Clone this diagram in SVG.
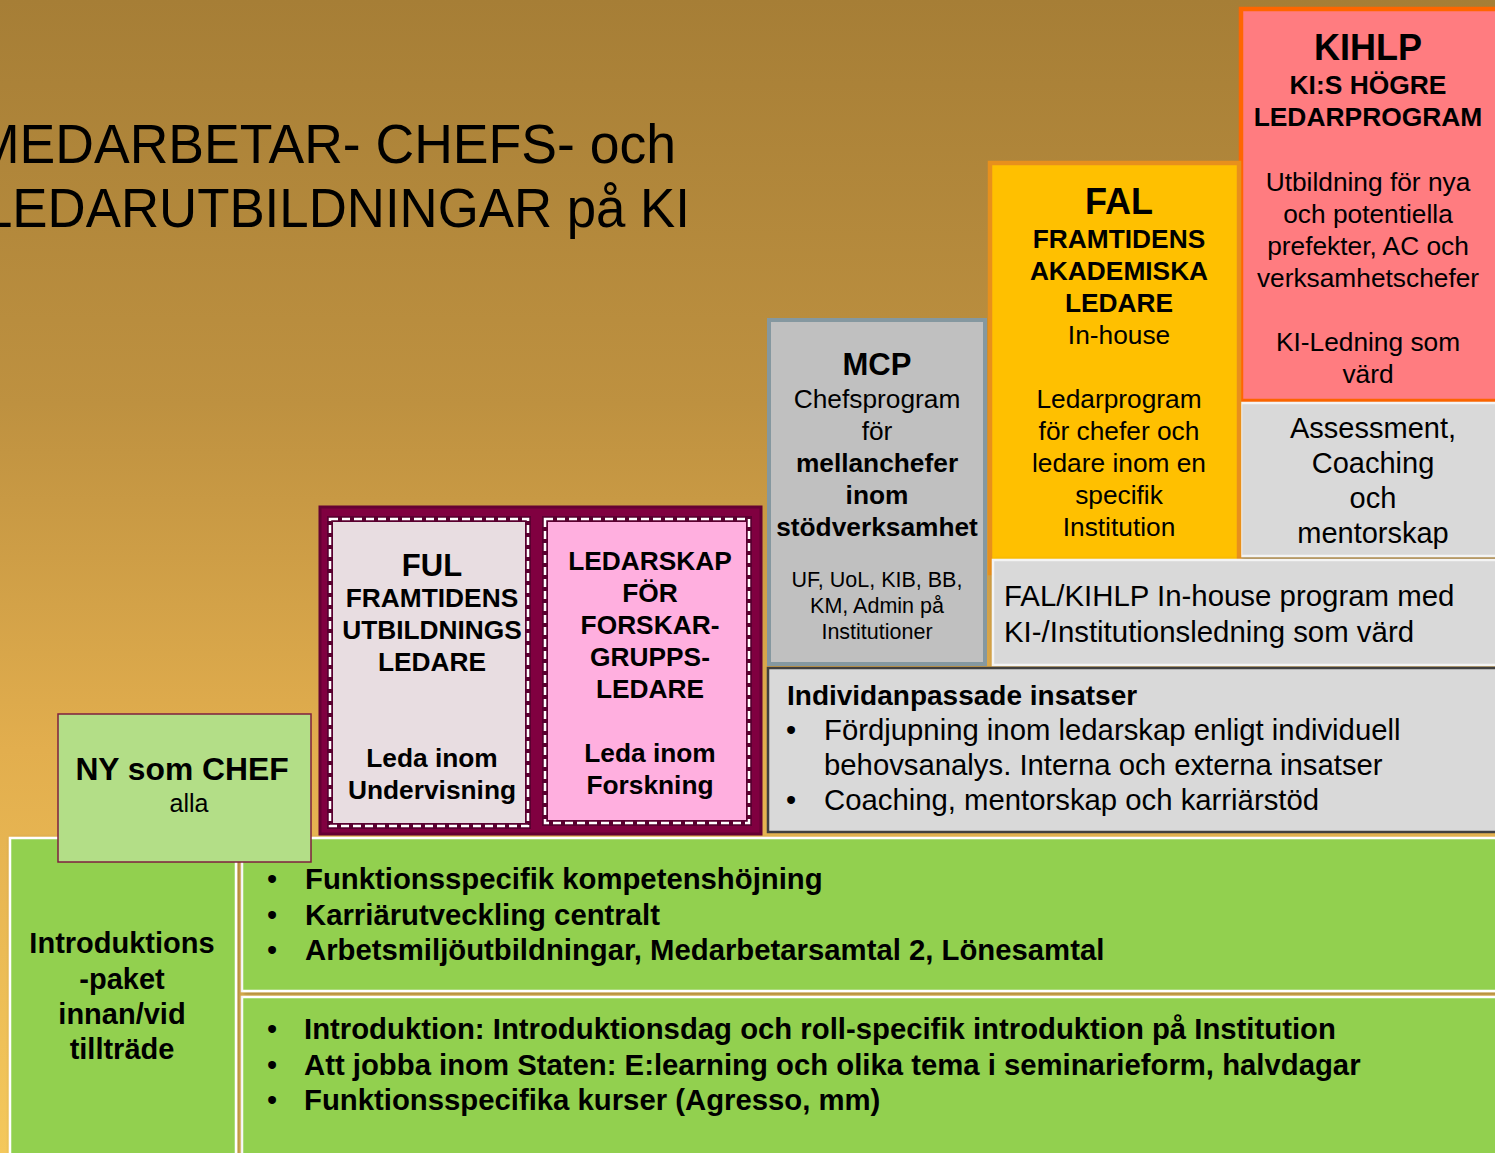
<svg xmlns="http://www.w3.org/2000/svg" width="1495" height="1153" viewBox="0 0 1495 1153">
<defs>
<linearGradient id="bg" x1="0" y1="0" x2="0" y2="1">
<stop offset="0" stop-color="#A67E36"/>
<stop offset="0.35" stop-color="#BE9140"/>
<stop offset="0.65" stop-color="#E2AE4E"/>
<stop offset="1" stop-color="#F4C85C"/>
</linearGradient>
<filter id="sh" x="-5%" y="-5%" width="110%" height="110%">
<feDropShadow dx="2" dy="2" stdDeviation="2" flood-color="#000" flood-opacity="0.35"/>
</filter>
<style>
text{font-family:"Liberation Sans",Arial,Helvetica,sans-serif;fill:#000}
.c{text-anchor:middle}
.b{font-weight:bold}
.gray{fill:#D9D9D9;stroke:#F4F4F4;stroke-width:2.5}
.green{fill:#92D050;stroke:#FFFFFF;stroke-width:2.5}
.dash-under{stroke:#5A0030;stroke-width:6;fill:none}
.dash-over{stroke:#FFFFFF;stroke-width:2.5;fill:none;stroke-dasharray:8 4}
</style>
</defs>
<rect x="0" y="0" width="1495" height="1153" fill="url(#bg)"/>

<g id="title">
<text x="-25" y="163" font-size="56" textLength="701" lengthAdjust="spacingAndGlyphs">MEDARBETAR- CHEFS- och</text>
<text x="-17" y="227" font-size="56" textLength="707" lengthAdjust="spacingAndGlyphs">LEDARUTBILDNINGAR på KI</text>
</g>

<g id="kihlp">
<rect x="1241" y="9" width="262" height="392" fill="#FF7C80" stroke="#FF6600" stroke-width="4.5"/>
<text class="c b" x="1368" y="60" font-size="36">KIHLP</text>
<text class="c b" x="1368" y="94" font-size="26.4">KI:S HÖGRE</text>
<text class="c b" x="1368" y="126" font-size="26.4">LEDARPROGRAM</text>
<text class="c" x="1368" y="191" font-size="26.3">Utbildning för nya</text>
<text class="c" x="1368" y="223" font-size="26.3">och potentiella</text>
<text class="c" x="1368" y="255" font-size="26.3">prefekter, AC och</text>
<text class="c" x="1368" y="287" font-size="26.3">verksamhetschefer</text>
<text class="c" x="1368" y="351" font-size="26.3">KI-Ledning som</text>
<text class="c" x="1368" y="383" font-size="26.3">värd</text>
</g>

<g id="assessment">
<rect class="gray" x="1241" y="403" width="262" height="153" filter="url(#sh)"/>
<text class="c" x="1373" y="438" font-size="29">Assessment,</text>
<text class="c" x="1373" y="473" font-size="29">Coaching</text>
<text class="c" x="1373" y="508" font-size="29">och</text>
<text class="c" x="1373" y="543" font-size="29">mentorskap</text>
</g>

<g id="fal">
<rect x="990" y="163" width="249" height="410" fill="#FFC000" stroke="#E8901C" stroke-width="4.5"/>
<text class="c b" x="1119" y="214" font-size="36">FAL</text>
<text class="c b" x="1119" y="248" font-size="26.3">FRAMTIDENS</text>
<text class="c b" x="1119" y="280" font-size="26.3">AKADEMISKA</text>
<text class="c b" x="1119" y="312" font-size="26.3">LEDARE</text>
<text class="c" x="1119" y="344" font-size="26.3">In-house</text>
<text class="c" x="1119" y="408" font-size="26.3">Ledarprogram</text>
<text class="c" x="1119" y="440" font-size="26.3">för chefer och</text>
<text class="c" x="1119" y="472" font-size="26.3">ledare inom en</text>
<text class="c" x="1119" y="504" font-size="26.3">specifik</text>
<text class="c" x="1119" y="536" font-size="26.3">Institution</text>
</g>

<g id="inhouse">
<rect class="gray" x="993" y="560" width="510" height="105" filter="url(#sh)"/>
<text x="1004" y="606" font-size="29.4">FAL/KIHLP In-house program med</text>
<text x="1004" y="642" font-size="29.4">KI-/Institutionsledning som värd</text>
</g>

<g id="mcp">
<rect x="769" y="320" width="216" height="344" fill="#C0C0C0" stroke="#8598A0" stroke-width="4"/>
<text class="c b" x="877" y="375" font-size="31">MCP</text>
<text class="c" x="877" y="408" font-size="26.3">Chefsprogram</text>
<text class="c" x="877" y="440" font-size="26.3">för</text>
<text class="c b" x="877" y="472" font-size="26.3">mellanchefer</text>
<text class="c b" x="877" y="504" font-size="26.3">inom</text>
<text class="c b" x="877" y="536" font-size="26.3">stödverksamhet</text>
<text class="c" x="877" y="587" font-size="21.5">UF, UoL, KIB, BB,</text>
<text class="c" x="877" y="613" font-size="21.5">KM, Admin på</text>
<text class="c" x="877" y="639" font-size="21.5">Institutioner</text>
</g>

<g id="individ">
<rect x="768" y="668" width="735" height="164" fill="#D9D9D9" stroke="#404040" stroke-width="2.5"/>
<text class="b" x="787" y="705" font-size="28">Individanpassade insatser</text>
<text x="786" y="740" font-size="29">•</text>
<text x="824" y="740" font-size="29.3">Fördjupning inom ledarskap enligt individuell</text>
<text x="824" y="775" font-size="29.3">behovsanalys. Interna och externa insatser</text>
<text x="786" y="810" font-size="29">•</text>
<text x="824" y="810" font-size="29.3">Coaching, mentorskap och karriärstöd</text>
</g>

<g id="ledarprogram-ram">
<rect x="320" y="507" width="441" height="327" fill="#800040" stroke="#650033" stroke-width="3"/>
</g>

<g id="ful">
<rect x="330" y="519" width="198" height="307" fill="#E8DDE1"/>
<rect class="dash-under" x="330" y="519" width="198" height="307"/>
<rect class="dash-over" x="330" y="519" width="198" height="307"/>
<text class="c b" x="432" y="576" font-size="31">FUL</text>
<text class="c b" x="432" y="607" font-size="26.3">FRAMTIDENS</text>
<text class="c b" x="432" y="639" font-size="26.3">UTBILDNINGS</text>
<text class="c b" x="432" y="671" font-size="26.3">LEDARE</text>
<text class="c b" x="432" y="767" font-size="26.3">Leda inom</text>
<text class="c b" x="432" y="799" font-size="26.3">Undervisning</text>
</g>

<g id="forskarledare">
<rect x="545" y="519" width="204" height="304" fill="#FFAFDF"/>
<rect class="dash-under" x="545" y="519" width="204" height="304"/>
<rect class="dash-over" x="545" y="519" width="204" height="304"/>
<text class="c b" x="650" y="570" font-size="26.3">LEDARSKAP</text>
<text class="c b" x="650" y="602" font-size="26.3">FÖR</text>
<text class="c b" x="650" y="634" font-size="26.3">FORSKAR-</text>
<text class="c b" x="650" y="666" font-size="26.3">GRUPPS-</text>
<text class="c b" x="650" y="698" font-size="26.3">LEDARE</text>
<text class="c b" x="650" y="762" font-size="26.3">Leda inom</text>
<text class="c b" x="650" y="794" font-size="26.3">Forskning</text>
</g>

<g id="funktion">
<rect class="green" x="242" y="838" width="1261" height="153" filter="url(#sh)"/>
<text x="267" y="889" font-size="29">•</text>
<text class="b" x="305" y="889" font-size="29.3">Funktionsspecifik kompetenshöjning</text>
<text x="267" y="925" font-size="29">•</text>
<text class="b" x="305" y="925" font-size="29.3">Karriärutveckling centralt</text>
<text x="267" y="960" font-size="29">•</text>
<text class="b" x="305" y="960" font-size="29.3">Arbetsmiljöutbildningar, Medarbetarsamtal 2, Lönesamtal</text>
</g>

<g id="introduktion">
<rect class="green" x="242" y="997" width="1261" height="170" filter="url(#sh)"/>
<text x="267" y="1039" font-size="29">•</text>
<text class="b" x="304" y="1039" font-size="29.3">Introduktion: Introduktionsdag och roll-specifik introduktion på Institution</text>
<text x="267" y="1075" font-size="29">•</text>
<text class="b" x="304" y="1075" font-size="29.3">Att jobba inom Staten: E:learning och olika tema i seminarieform, halvdagar</text>
<text x="267" y="1110" font-size="29">•</text>
<text class="b" x="304" y="1110" font-size="29.3">Funktionsspecifika kurser (Agresso, mm)</text>
</g>

<g id="introduktionspaket">
<rect class="green" x="10" y="838" width="226" height="330" filter="url(#sh)"/>
<text class="c b" x="122" y="953" font-size="29">Introduktions</text>
<text class="c b" x="122" y="989" font-size="29">-paket</text>
<text class="c b" x="122" y="1024" font-size="29">innan/vid</text>
<text class="c b" x="122" y="1059" font-size="29">tillträde</text>
</g>

<g id="ny-som-chef">
<rect x="58" y="714" width="253" height="148" fill="#B3DE87" stroke="#7F1F3F" stroke-width="1.5"/>
<text class="c b" x="182" y="780" font-size="31.8">NY som CHEF</text>
<text class="c" x="189" y="812" font-size="25">alla</text>
</g>

<g id="connectors"/>
</svg>
